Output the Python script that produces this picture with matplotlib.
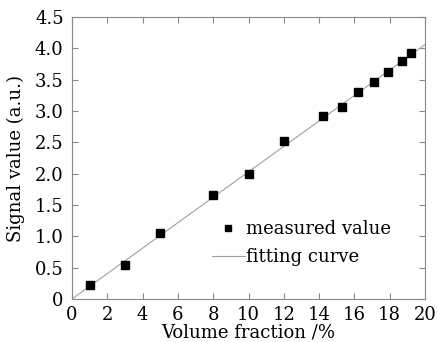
import matplotlib
matplotlib.use("Agg")
import matplotlib.pyplot as plt
import numpy as np

plt.rcParams['font.family'] = ['DejaVu Serif']

vol = [1.0, 3.0, 5.0, 8.0, 10.0, 12.0, 14.2, 15.3, 16.2, 17.1, 17.9, 18.7, 19.2]
signal = [0.22, 0.55, 1.05, 1.66, 2.0, 2.52, 2.92, 3.07, 3.30, 3.47, 3.63, 3.79, 3.92]
fit_x = [0.0, 20.0]
fit_y = [0.0, 4.06]

xticks = [0, 2, 4, 6, 8, 10, 12, 14, 16, 18, 20]
yticks = [0, 0.5, 1.0, 1.5, 2.0, 2.5, 3.0, 3.5, 4.0, 4.5]
ylabels = ['0', '0.5', '1.0', '1.5', '2.0', '2.5', '3.0', '3.5', '4.0', '4.5']

fig = plt.figure(figsize=(4.39, 3.42), dpi=100)
ax = fig.add_axes([72/439, 1-299/342, (425-72)/439, (299-17)/342])

ax.plot(vol, signal, 's', color='black', markersize=5.5, label='measured value', zorder=3)
ax.plot(fit_x, fit_y, '-', color='#a0a0a0', lw=0.8, label='fitting curve')

ax.set_xlim(0, 20)
ax.set_ylim(0, 4.5)
ax.set_xticks(xticks)
ax.set_yticks(yticks)
ax.set_yticklabels(ylabels)
ax.tick_params(direction='in', top=True, right=True, labelsize=13, length=4, color='#888888')
ax.tick_params(axis='y', pad=6)
ax.tick_params(axis='x', pad=5)
for s in ax.spines.values():
    s.set_color('#888888')
    s.set_linewidth(0.8)

ax.set_xlabel('Volume fraction /%', fontsize=13, labelpad=0)
ax.set_ylabel('Signal value (a.u.)', fontsize=13, labelpad=7)

ax.legend(loc='upper left', bbox_to_anchor=((205-72)/353, (299-213)/282), frameon=False,
          fontsize=13, handlelength=1.8, handletextpad=0.05, borderaxespad=0, labelspacing=0.55,
          markerscale=0.8)

fig.savefig('out.png', dpi=100)
